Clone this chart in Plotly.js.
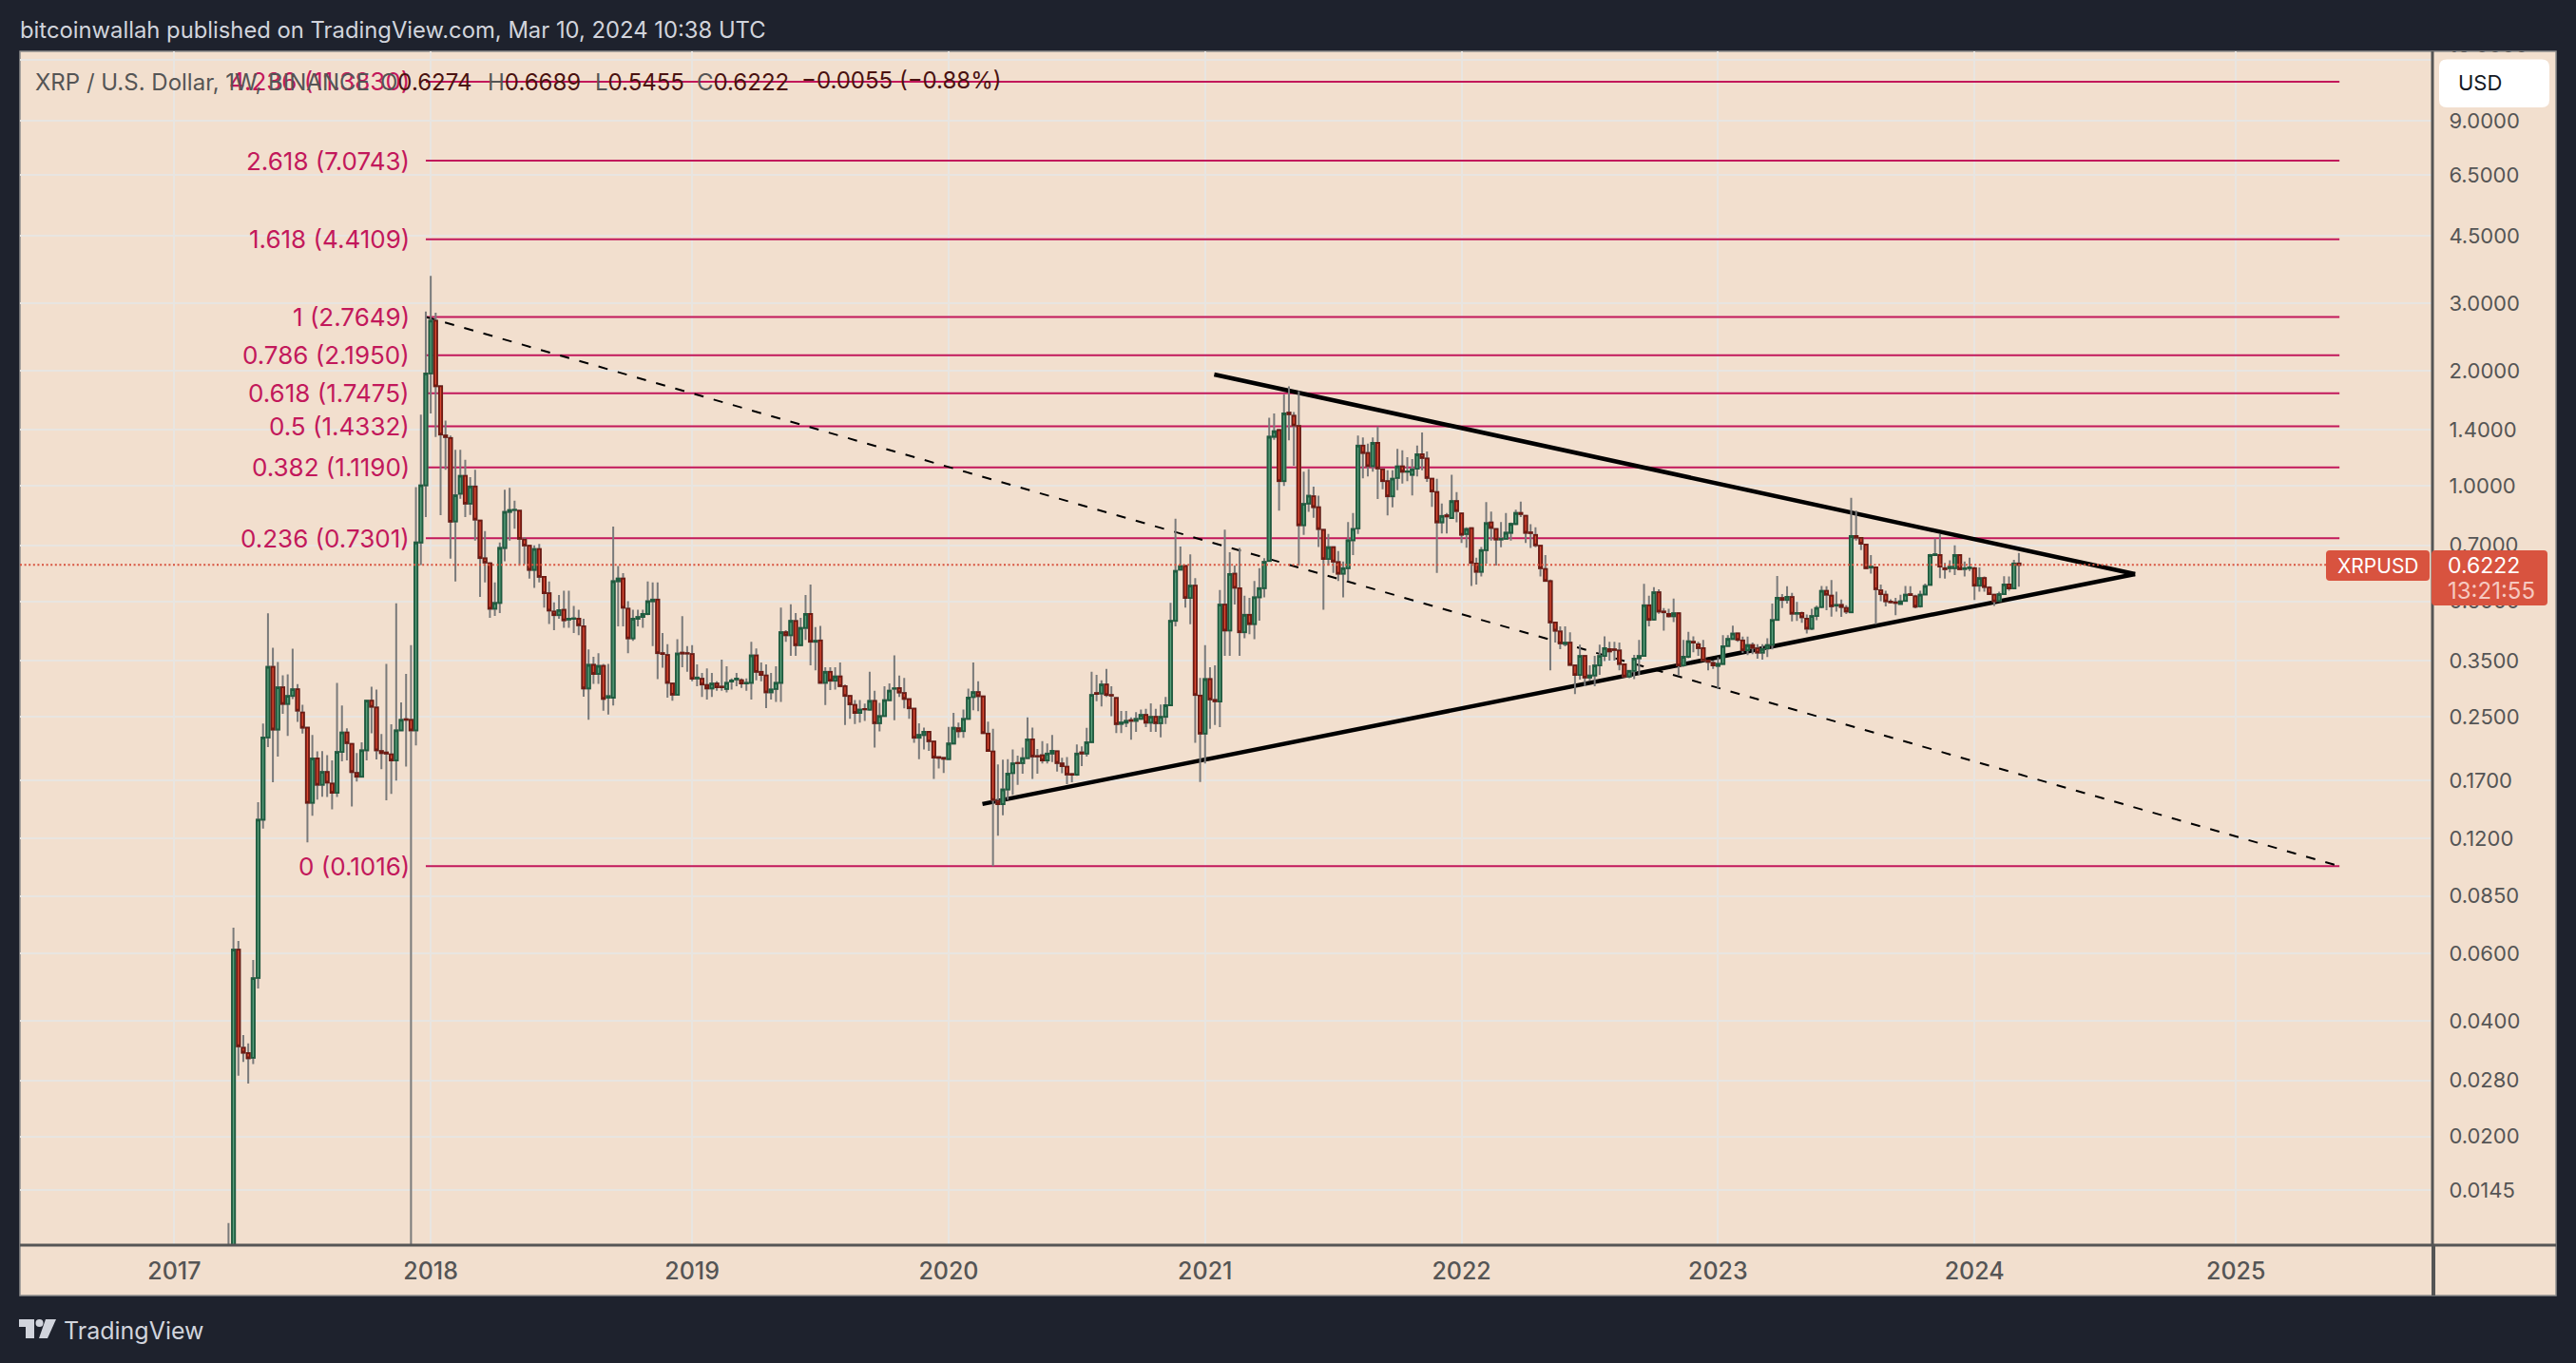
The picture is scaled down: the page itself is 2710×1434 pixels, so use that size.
<!DOCTYPE html>
<html><head><meta charset="utf-8">
<script src="https://cdn.plot.ly/plotly-3.0.1.min.js"></script>
<style>html,body{margin:0;padding:0;background:#1e222d;overflow:hidden}</style>
</head><body><div id="chart"></div>
<script>
const firstWeek = '2017-03-20';
const open = [
.0058,.0065,.0615,.0341,.0330,.0321,.0519,.1344,.2203,.337,
.2312,.298,.2697,.283,.2945,.256,.2338,.1488,.1942,.1658,
.179,.167,.158,.202,.227,.212,.178,.174,.204,.275,
.264,.203,.2013,.199,.192,.23,.246,.245,.23,.712,
1.004,1.968,2.703,1.823,1.355,1.335,.808,.955,1.063,.899,
.997,.812,.647,.628,.478,.495,.689,.856,.865,.862,
.725,.698,.604,.6845,.579,.525,.47,.46,.475,.448,
.45,.45,.43,.296,.341,.323,.339,.28,.28,.564,
.573,.478,.4,.45,.455,.463,.5,.505,.366,.362,
.305,.285,.367,.366,.364,.314,.3138,.302,.296,.305,
.299,.295,.3085,.3125,.311,.305,.306,.361,.327,.32,
.289,.295,.306,.415,.4075,.444,.384,.4257,.463,.392,
.395,.306,.327,.31,.318,.30,.283,.268,.2555,.2615,
.2605,.2745,.24,.2507,.2757,.2955,.2965,.288,.2775,.262,
.22,.2237,.228,.215,.1958,.195,.1935,.2125,.233,.229,
.2465,.281,.2895,.282,.2255,.2025,.1505,.1476,.1612,.1779,
.189,.1888,.1945,.2178,.197,.198,.192,.2,.2028,.1885,
.1848,.1767,.1762,.2015,.2,.2143,.288,.287,.303,.2846,
.2795,.2392,.241,.2445,.2435,.2465,.2525,.241,.2495,.24,
.2495,.2675,.4445,.605,.618,.51,.549,.2835,.2255,.313,
.276,.2735,.49,.4195,.59,.5405,.415,.461,.436,.512,
.541,.637,1.345,1.40,1.03,1.555,1.525,1.435,.79,.90,
.94,.88,.768,.645,.692,.633,.59,.61,.7215,.775,
1.275,1.22,1.127,1.296,1.105,1.03,.94,1.05,1.125,1.09,
1.07,1.11,1.21,1.18,1.045,.964,.804,.838,.825,.913,
.848,.749,.776,.627,.597,.68,.803,.772,.725,.728,
.755,.796,.85,.836,.757,.745,.698,.607,.564,.44,
.417,.387,.39,.34,.321,.36,.316,.32,.34,.36,
.375,.3745,.372,.342,.318,.329,.355,.36,.488,.448,
.528,.47,.463,.457,.465,.34,.358,.392,.386,.377,
.35,.345,.339,.343,.382,.3985,.412,.395,.3725,.384,
.3765,.367,.3765,.385,.447,.51,.504,.513,.464,.466,
.45,.424,.4575,.483,.532,.517,.487,.489,.48,.468,
.74,.732,.703,.612,.613,.534,.52,.499,.497,.492,
.501,.522,.515,.485,.521,.552,.66,.66,.61,.61,
.61,.66,.607,.61,.61,.549,.575,.543,.52,.501,
.522,.553,.54,.6274];
const high = [
.01187,.0702,.0648,.0368,.0350,.0578,.1493,.2397,.465,.378,
.347,.3204,.322,.376,.3037,.2683,.235,.2237,.2027,.203,
.198,.192,.306,.267,.233,.213,.2006,.214,.276,.299,
.294,.225,.343,.2385,.4935,.272,.323,.384,.994,1.537,
2.857,3.54,2.835,1.823,1.482,1.355,1.244,1.244,1.17,1.055,
1.103,.815,.763,.632,.56,.712,.978,.989,.916,.866,
.735,.70,.70,.706,.58,.563,.497,.519,.533,.533,
.486,.475,.45,.374,.358,.366,.343,.343,.784,.618,
.592,.5,.475,.475,.475,.563,.56,.56,.413,.386,
.306,.398,.457,.3816,.384,.342,.325,.334,.325,.309,
.352,.338,.3145,.325,.3145,.3145,.392,.3766,.346,.342,
.325,.338,.481,.42,.491,.4656,.4527,.519,.553,.428,
.431,.336,.336,.336,.346,.303,.284,.276,.276,.27,
.327,.292,.2715,.30,.305,.3613,.32,.3153,.278,.2627,
.24,.2337,.229,.2155,.197,.196,.235,.2555,.241,.2605,
.2955,.346,.309,.2825,.2425,.2323,.1875,.1928,.1935,.205,
.1975,.2073,.2487,.2338,.2055,.2155,.2125,.2237,.204,.195,
.1958,.178,.2113,.209,.2335,.327,.321,.311,.333,.30,
.281,.2585,.2585,.2485,.2565,.2605,.2618,.2705,.2618,.2685,
.281,.495,.821,.695,.62,.6627,.575,.3153,.384,.336,
.34,.535,.769,.6715,.62,.689,.517,.51,.565,.61,
.648,1.508,1.547,1.41,1.735,1.82,1.56,1.77,1.09,1.108,
.996,.943,.772,.75,.693,.676,.635,.805,.85,1.355,
1.34,1.29,1.34,1.43,1.112,1.10,1.10,1.25,1.24,1.19,
1.175,1.275,1.38,1.23,1.05,1.045,.90,.85,1.07,.964,
.85,.78,.78,.65,.693,.908,.857,.775,.805,.85,
.803,.867,.91,.837,.795,.78,.70,.66,.57,.44,
.43,.43,.415,.341,.385,.36,.34,.36,.385,.405,
.392,.392,.39,.343,.331,.362,.396,.555,.517,.544,
.537,.48,.478,.508,.467,.396,.416,.405,.392,.396,
.352,.35,.357,.4075,.408,.432,.414,.404,.404,.39,
.386,.386,.40,.493,.582,.522,.547,.526,.498,.47,
.462,.478,.487,.548,.547,.568,.53,.505,.488,.931,
.862,.735,.705,.66,.615,.553,.533,.506,.51,.52,
.548,.547,.52,.533,.556,.665,.73,.748,.63,.64,
.70,.664,.635,.65,.615,.613,.58,.547,.522,.53,
.581,.58,.641,.6689];
const low = [
.0055,.0060,.0288,.0313,.0275,.0309,.0487,.1274,.2081,.1683,
.1964,.254,.2224,.2775,.242,.2255,.1173,.1377,.1516,.1543,
.154,.143,.154,.191,.192,.1455,.169,.173,.192,.226,
.193,.182,.151,.157,.170,.229,.185,.005,.21,.622,
.83,1.548,1.343,.839,1.103,.646,.563,.926,.83,.84,
.72,.513,.56,.4525,.458,.466,.636,.72,.774,.624,
.624,.573,.542,.56,.481,.436,.42,.45,.426,.426,
.413,.408,.2815,.245,.304,.304,.259,.253,.267,.43,
.43,.366,.394,.43,.426,.46,.382,.313,.335,.28,
.275,.284,.336,.327,.309,.30,.281,.277,.281,.292,
.292,.289,.294,.30,.297,.292,.277,.311,.309,.263,
.277,.273,.273,.392,.36,.36,.382,.396,.34,.33,
.305,.268,.293,.294,.30,.2375,.2465,.2388,.241,.2435,
.259,.2075,.2287,.25,.275,.2445,.281,.2627,.2465,.2133,
.1935,.205,.2033,.1718,.183,.178,.193,.2125,.22,.22,
.2465,.2595,.258,.2255,.2033,.1016,.122,.138,.1514,.156,
.1658,.1772,.1945,.1718,.1772,.1885,.1885,.19,.1795,.1778,
.1665,.1683,.175,.1855,.1965,.2133,.274,.2655,.281,.2505,
.2262,.2262,.2345,.2175,.228,.2455,.2345,.228,.228,.2205,
.2388,.2665,.4297,.6025,.481,.4357,.2133,.1686,.1885,.2323,
.2375,.2345,.36,.36,.49,.36,.40,.41,.398,.445,
.512,.634,1.32,.862,1.0,1.316,1.13,.62,.745,.856,
.826,.693,.475,.62,.593,.565,.512,.565,.66,.75,
1.047,1.06,1.09,.925,.98,.838,.88,.975,1.015,1.03,
.945,1.06,1.10,1.025,.882,.593,.752,.752,.825,.804,
.71,.69,.548,.553,.58,.627,.72,.62,.692,.725,
.72,.79,.83,.71,.689,.692,.58,.565,.33,.39,
.375,.381,.34,.286,.312,.30,.31,.30,.321,.349,
.35,.35,.33,.316,.315,.313,.321,.358,.43,.445,
.464,.419,.453,.441,.32,.337,.355,.368,.36,.348,
.33,.333,.296,.342,.38,.398,.392,.3665,.3615,.3635,
.354,.352,.3575,.374,.444,.48,.493,.443,.444,.439,
.4116,.42,.446,.479,.474,.456,.47,.455,.463,.466,
.72,.68,.607,.59,.4357,.50,.485,.493,.46,.4895,
.498,.517,.479,.481,.52,.55,.657,.575,.573,.595,
.585,.603,.58,.60,.504,.53,.53,.52,.486,.4985,
.52,.533,.539,.5455];
const close = [
.0065,.0615,.0344,.0331,.0320,.0518,.1344,.2203,.337,.2312,
.298,.2697,.283,.2945,.2589,.2338,.1488,.1942,.1658,.1792,
.168,.158,.202,.227,.213,.179,.174,.204,.275,.265,
.204,.2006,.2,.192,.23,.245,.245,.23,.712,1.004,
1.968,2.703,1.823,1.363,1.343,.807,.946,1.063,.899,.997,
.817,.648,.631,.478,.495,.689,.856,.865,.867,.728,
.699,.604,.6845,.579,.525,.473,.46,.474,.446,.45,
.451,.433,.296,.341,.323,.339,.278,.2825,.564,.573,
.481,.4,.45,.455,.463,.5,.505,.366,.364,.306,
.285,.365,.365,.365,.3138,.316,.303,.296,.305,.298,
.298,.306,.3105,.314,.305,.306,.361,.327,.321,.289,
.294,.306,.4153,.4075,.4442,.384,.4257,.4632,.392,.394,
.306,.327,.31,.318,.30,.283,.269,.2555,.2605,.261,
.2745,.24,.2507,.2757,.292,.296,.2888,.278,.2627,.22,
.2237,.228,.2153,.1953,.195,.1938,.2125,.2335,.2288,.2465,
.28,.2895,.2826,.2263,.2033,.1514,.1476,.1612,.1772,.1885,
.1888,.1945,.2178,.1965,.1965,.192,.2,.2033,.189,.1855,
.1763,.1762,.2,.2,.214,.2846,.2865,.303,.2846,.2835,
.2388,.241,.2435,.2435,.2465,.2525,.241,.2495,.24,.2495,
.2675,.4445,.6,.6175,.51,.549,.2846,.2255,.313,.277,
.274,.49,.4195,.589,.5425,.415,.461,.436,.512,.541,
.634,1.345,1.39,1.03,1.547,1.54,1.44,.79,.898,.943,
.881,.772,.645,.692,.635,.59,.61,.7215,.772,1.275,
1.22,1.127,1.296,1.112,1.03,.94,1.045,1.125,1.09,1.092,
1.105,1.21,1.183,1.05,.968,.804,.835,.833,.913,.86,
.746,.772,.63,.597,.68,.8,.777,.725,.728,.755,
.796,.85,.845,.755,.753,.70,.61,.565,.44,.419,
.388,.39,.341,.321,.36,.316,.32,.34,.36,.377,
.37,.373,.343,.318,.329,.354,.36,.488,.447,.528,
.47,.468,.457,.465,.34,.358,.393,.39,.377,.35,
.347,.34,.343,.3815,.3985,.4116,.3965,.3725,.384,.378,
.367,.375,.384,.4467,.5105,.504,.5135,.464,.466,.454,
.424,.4575,.48,.532,.52,.485,.489,.483,.47,.74,
.733,.707,.61,.616,.5375,.522,.50,.497,.495,.4995,
.52,.519,.484,.52,.548,.66,.663,.616,.606,.615,
.66,.606,.61,.613,.549,.575,.545,.522,.50,.522,
.553,.54,.6274,.6222];

const fibRatios = ['4.236','2.618','1.618','1','0.786','0.618','0.5','0.382','0.236','0'];
const fibPrices = [11.3830,7.0743,4.4109,2.7649,2.1950,1.7475,1.4332,1.1190,0.7301,0.1016];
const fibStart = '2017-12-25';
const fibEnd = '2025-06-02';
const fibLabelDate = '2017-12-04';

const upperTrendDates = ['2021-01-17','2024-08-16'];
const upperTrendPrices = [1.956,0.5889];
const lowerTrendDates = ['2020-02-23','2024-08-16'];
const lowerTrendPrices = [0.1477,0.5889];
const fibTrendDates = [fibStart,fibEnd];
const fibTrendPrices = [2.7649,0.1016];

const yearTickDates = ['2017-01-02','2018-01-01','2019-01-07','2020-01-06','2021-01-04','2022-01-03','2023-01-02','2024-01-01','2025-01-06'];
const yearTickLabels = ['2017','2018','2019','2020','2021','2022','2023','2024','2025'];
const priceTicks = [13,9,6.5,4.5,3,2,1.4,1,0.7,0.5,0.35,0.25,0.17,0.12,0.085,0.06,0.04,0.028,0.02,0.0145];
const priceTickLabels = ['13.0000','9.0000','6.5000','4.5000','3.0000','2.0000','1.4000','1.0000','0.7000','0.5000','0.3500','0.2500','0.1700','0.1200','0.0850','0.0600','0.0400','0.0280','0.0200','0.0145'];
const priceLineDates = ['2016-05-28','2025-05-14'];

const W = 2710, H = 1434;
const L = 21, R = 2559, T = 54, B = 1310;
const px = x => (x - L) / (R - L);
const py = y => (B - y) / (B - T);
const DARK = '#1e222d', BEIGE = '#f2dfce', GRID = '#e8e5e1', AXIS = '#555555', TXT = '#555555', FIB = '#c2185b', RED = '#d8533f';

const dates = close.map((_, i) => {
  const d = new Date(firstWeek + 'T00:00:00Z');
  d.setUTCDate(d.getUTCDate() + 7 * i);
  return d.toISOString().slice(0, 10);
});
const bodyHigh = close.map((c, i) => Math.max(c, open[i]));
const bodyLow = close.map((c, i) => Math.min(c, open[i]));

function rectShape(x0, y0, x1, y1, fill, layer, lineColor, lineWidth) {
  return {type:'rect', xref:'paper', yref:'paper', x0:px(x0), x1:px(x1), y0:py(y0), y1:py(y1),
    fillcolor:fill, layer:layer||'above', line:{width:lineWidth||0, color:lineColor||fill}};
}
function roundShape(x0, y0, x1, y1, r, fill, layer) {
  const p = (x,y) => px(x) + ',' + py(y);
  const path = 'M' + p(x0+r,y0) + ' L' + p(x1-r,y0) + ' Q' + p(x1,y0) + ' ' + p(x1,y0+r) +
    ' L' + p(x1,y1-r) + ' Q' + p(x1,y1) + ' ' + p(x1-r,y1) + ' L' + p(x0+r,y1) +
    ' Q' + p(x0,y1) + ' ' + p(x0,y1-r) + ' L' + p(x0,y0+r) + ' Q' + p(x0,y0) + ' ' + p(x0+r,y0) + ' Z';
  return {type:'path', xref:'paper', yref:'paper', path, fillcolor:fill, layer:layer||'above', line:{width:0}};
}
function polyShape(points, fill) {
  const path = points.map((q,i) => (i?'L':'M') + px(q[0]) + ',' + py(q[1])).join(' ') + ' Z';
  return {type:'path', xref:'paper', yref:'paper', path, fillcolor:fill, layer:'above', line:{width:0}};
}
function lineShape(x0, y0, x1, y1, color, width) {
  return {type:'line', xref:'paper', yref:'paper', x0:px(x0), x1:px(x1), y0:py(y0), y1:py(y1),
    layer:'above', line:{color, width}};
}
function dataLine(xs, ys, color, width, dash) {
  return {type:'line', xref:'x', yref:'y', x0:xs[0], x1:xs[1], y0:ys[0], y1:ys[1], layer:'between',
    line:{color, width, dash:dash||'solid'}};
}
function note(x, y, text, color, size, anchor, weight) {
  return {xref:'paper', yref:'paper', x:px(x), y:py(y), text, showarrow:false, xanchor:anchor||'left', yanchor:'middle',
    align:'left', font:{family:'Inter', size:size||24, color, weight:weight||400}, borderpad:0};
}

const shapes = [
  rectShape(L, T, 2689, 1363, BEIGE, 'below', '#8f8f8f', 1.5),
  ...fibPrices.map(p => dataLine([fibStart, fibEnd], [p, p], FIB, 2)),
  dataLine(fibTrendDates, fibTrendPrices, '#000000', 2, '10px,11px'),
  dataLine(upperTrendDates, upperTrendPrices, '#000000', 4.5),
  dataLine(lowerTrendDates, lowerTrendPrices, '#000000', 4.5),
  lineShape(L, B, 2689, B, AXIS, 3),
  lineShape(R, T, R, B, AXIS, 3),
  lineShape(R + 1, B, R + 1, 1363, AXIS, 4),
  rectShape(R + 2, T + 1, 2688, 119, BEIGE),
  roundShape(2566, 62.5, 2682, 113, 8, '#ffffff'),
  roundShape(2447, 579, 2556, 611, 4, RED),
  roundShape(2558, 579, 2680, 637, 4, RED),
  polyShape([[20,1388],[36,1388],[36,1408],[27,1408],[27,1396],[20,1396]], '#d1d4dc'),
  {type:'circle', xref:'paper', yref:'paper', x0:px(37.5), x1:px(45.5), y0:py(1388), y1:py(1396), fillcolor:'#d1d4dc', layer:'above', line:{width:0}},
  polyShape([[48,1388],[59,1388],[50,1408],[41,1408]], '#d1d4dc')
];

const VAL = '#4a1210';
const annotations = [
  ...fibPrices.map((p, i) => ({xref:'x', yref:'y', x:fibLabelDate, y:Math.log10(p), text:fibRatios[i] + ' (' + p.toFixed(4) + ')',
    showarrow:false, xanchor:'right', yanchor:'middle', borderpad:0, font:{family:'Inter', size:26, color:FIB}})),
  note(36, 86, 'XRP / U.S. Dollar, 1W, BINANCE', TXT),
  note(399, 86, '<span style="color:'+TXT+'">O</span>0.6274', VAL),
  note(512, 86, '<span style="color:'+TXT+'">H</span>0.6689', VAL),
  note(625, 86, '<span style="color:'+TXT+'">L</span>0.5455', VAL),
  note(732, 86, '<span style="color:'+TXT+'">C</span>0.6222', VAL),
  note(842, 85, '\u22120.0055 (\u22120.88%)', VAL),
  note(2585, 87, 'USD', '#131722', 22),
  note(2501.5, 595, 'XRPUSD', '#ffffff', 21, 'center'),
  note(2574, 595, '0.6222', '#ffffff', 23),
  note(2574, 621, '13:21:55', '#f6c9c0', 24),
  note(66, 1400, 'TradingView', '#d1d4dc', 25, 'left', 400)
];

const up = '#1f5c3f', dn = '#6f1a12', wick = '#7a7a7a';
const traces = [
  {type:'candlestick', x:dates, open, high, low, close, whiskerwidth:0, hoverinfo:'skip', showlegend:false,
   increasing:{line:{color:wick, width:2}, fillcolor:wick},
   decreasing:{line:{color:wick, width:2}, fillcolor:wick}},
  {type:'candlestick', x:dates, open, high:bodyHigh, low:bodyLow, close, whiskerwidth:0, hoverinfo:'skip', showlegend:false,
   increasing:{line:{color:up, width:1.8}, fillcolor:'#5a9f7c'},
   decreasing:{line:{color:dn, width:1.8}, fillcolor:'#dc4a33'}},
  {type:'scatter', mode:'lines', x:priceLineDates, y:[close[close.length-1], close[close.length-1]], hoverinfo:'skip', showlegend:false,
   line:{color:RED, width:2, dash:'2px,2.6px'}}
];

const layout = {
  width:W, height:H, autosize:false,
  paper_bgcolor:DARK, plot_bgcolor:BEIGE, showlegend:false, hovermode:false,
  margin:{l:L, r:W-R, t:T, b:H-B, pad:0},
  boxmode:'overlay', boxgap:0.39, boxgroupgap:0,
  title:{text:'bitcoinwallah published on TradingView.com, Mar 10, 2024 10:38 UTC', x:21/W, xanchor:'left', y:1-32/H, yanchor:'middle',
    font:{family:'Inter', size:23.8, color:'#d1d4dc'}},
  xaxis:{type:'date', range:['2016-05-28','2025-10-12'], rangeslider:{visible:false}, tickmode:'array',
    tickvals:yearTickDates, ticktext:yearTickLabels, showgrid:true, gridcolor:GRID, gridwidth:2,
    ticks:'outside', ticklen:5, tickcolor:'rgba(0,0,0,0)', tickfont:{family:'Inter', size:25, color:TXT, weight:500},
    showline:false, zeroline:false, fixedrange:true},
  yaxis:{type:'log', side:'right', range:[-1.983,1.1355], tickmode:'array', tickvals:priceTicks, ticktext:priceTickLabels,
    showgrid:true, gridcolor:GRID, gridwidth:2, ticks:'outside', ticklen:12, tickcolor:'rgba(0,0,0,0)',
    tickfont:{family:'Inter', size:22, color:TXT}, showline:false, zeroline:false, fixedrange:true},
  shapes, annotations
};
Plotly.newPlot('chart', traces, layout, {displayModeBar:false, staticPlot:true});
</script></body></html>
